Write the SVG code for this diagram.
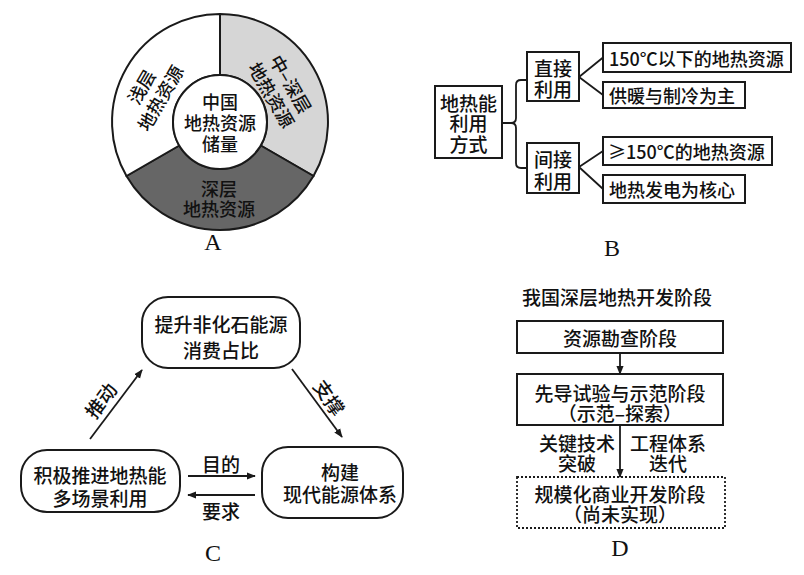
<svg xmlns="http://www.w3.org/2000/svg" width="804" height="575" viewBox="0 0 804 575">
<style>
text{font-family:"Noto Sans CJK SC","Noto Sans",sans-serif;fill:#111;font-weight:500;}
.t{font-size:18px;text-anchor:middle;dominant-baseline:central;}
.t19{font-size:19px;text-anchor:middle;dominant-baseline:central;}
.tl{font-size:18px;text-anchor:start;dominant-baseline:central;}
.lab{font-family:"Liberation Serif","Times New Roman",serif;font-size:24px;text-anchor:middle;font-weight:normal;}
.box{fill:#fff;stroke:#1a1a1a;stroke-width:2;}
.dbox{fill:#fff;stroke:#1a1a1a;stroke-width:1.8;stroke-dasharray:2 2;}
.ln{fill:none;stroke:#1a1a1a;stroke-width:1.8;}
.arr{fill:none;stroke:#1a1a1a;stroke-width:1.8;marker-end:url(#ah);}
</style>
<defs>
<marker id="ah" viewBox="0 0 10 10" refX="9" refY="5" markerWidth="5" markerHeight="5" orient="auto" markerUnits="strokeWidth">
<path d="M0,1 L10,5 L0,9 Z" fill="#1a1a1a"/>
</marker>
</defs>
<rect width="804" height="575" fill="#fff"/>

<!-- A: ring chart -->
<g id="chartA">
<path d="M220,14 A108,108 0 0 1 313.5,176 L260.7,145.5 A47,47 0 0 0 220,75 Z" fill="#d6d6d6" stroke="#1a1a1a" stroke-width="2"/>
<path d="M313.5,176 A108,108 0 0 1 126.5,176 L179.3,145.5 A47,47 0 0 0 260.7,145.5 Z" fill="#666" stroke="#1a1a1a" stroke-width="2"/>
<path d="M126.5,176 A108,108 0 0 1 220,14 L220,75 A47,47 0 0 0 179.3,145.5 Z" fill="#fff" stroke="#1a1a1a" stroke-width="2"/>
<circle cx="220" cy="122" r="47" fill="#fff" stroke="#1a1a1a" stroke-width="2"/>
<text class="t" x="220" y="101">中国</text>
<text class="t" x="220" y="122">地热资源</text>
<text class="t" x="220" y="143">储量</text>
<g transform="translate(150,92) rotate(-60)">
<text class="t" x="0" y="-11">浅层</text>
<text class="t" x="0" y="11">地热资源</text>
</g>
<g transform="translate(282,89) rotate(60)">
<text class="t" x="0" y="-11">中–深层</text>
<text class="t" x="0" y="11">地热资源</text>
</g>
<text class="t" x="219" y="188">深层</text>
<text class="t" x="219" y="208">地热资源</text>
<text class="lab" x="213" y="250">A</text>
</g>

<!-- B: tree -->
<g id="B-root"><rect class="box" x="435" y="86" width="67" height="72"/>
<text class="t19" x="468.5" y="102">地热能</text>
<text class="t19" x="468.5" y="122">利用</text>
<text class="t19" x="468.5" y="143">方式</text></g>
<g id="B-direct"><rect class="box" x="527" y="52" width="52" height="49"/>
<text class="t19" x="553" y="67">直接</text>
<text class="t19" x="553" y="88">利用</text></g>
<g id="B-indirect"><rect class="box" x="527" y="143" width="52" height="50"/>
<text class="t19" x="553" y="158">间接</text>
<text class="t19" x="553" y="180">利用</text></g>
<g id="B-l1"><rect class="box" x="603" y="43" width="188" height="29"/>
<text class="tl" x="609" y="57.5">150℃以下的地热资源</text></g>
<g id="B-l2"><rect class="box" x="603" y="82" width="142" height="26"/>
<text class="tl" x="609" y="95">供暖与制冷为主</text></g>
<g id="B-l3"><rect class="box" x="603" y="137" width="169" height="28"/>
<text class="tl" x="608" y="151">≥150℃的地热资源</text></g>
<g id="B-l4"><rect class="box" x="603" y="175" width="142" height="28"/>
<text class="tl" x="609" y="189">地热发电为核心</text></g>
<text class="lab" x="612" y="256">B</text>

<!-- C: cycle -->
<g id="C-top"><rect class="box" x="142" y="297" width="158" height="71" rx="26"/>
<text class="t19" x="221" y="323">提升非化石能源</text>
<text class="t19" x="221" y="349">消费占比</text></g>
<g id="C-left"><rect class="box" x="21" y="450" width="159" height="62" rx="26"/>
<text class="t19" x="100" y="474">积极推进地热能</text>
<text class="t19" x="100" y="497">多场景利用</text></g>
<g id="C-right"><rect class="box" x="262" y="447" width="141" height="71" rx="26"/>
<text class="t19" x="340" y="471">构建</text>
<text class="t19" x="340" y="493">现代能源体系</text></g>
<text class="lab" x="213" y="561">C</text>

<!-- D: stages -->
<text class="t19" x="617" y="296">我国深层地热开发阶段</text>
<g id="D-1"><rect class="box" x="517" y="321" width="206" height="32"/>
<text class="t19" x="620" y="337">资源勘查阶段</text></g>
<g id="D-2"><rect class="box" x="517" y="374" width="206" height="51"/>
<text class="t19" x="620" y="392">先导试验与示范阶段</text>
<text class="t19" x="620" y="412">（示范–探索）</text></g>
<g id="D-3"><rect class="dbox" x="517" y="477" width="208" height="51"/>
<text class="t19" x="620" y="493">规模化商业开发阶段</text>
<text class="t19" x="620" y="513">（尚未实现）</text></g>
<text class="lab" x="620" y="556">D</text>

<g id="connectors">
<path class="ln" d="M527,80 H521 Q516,80 516,85 V118 Q516,123 511,123 H502 M511,123 Q516,123 516,128 V163 Q516,168 521,168 H527"/>
<path class="ln" d="M579,77 L603,57.5 M579,77 L603,95"/>
<path class="ln" d="M579,167 L603,151 M579,167 L603,189"/>
<path class="arr" d="M90,439 L142,370"/>
<path class="arr" d="M292,369 L342,437"/>
<path class="arr" d="M188,476 L255,476"/>
<path class="arr" d="M255,495 L188,495"/>
<path class="arr" d="M620,353 L620,374"/>
<path class="arr" d="M620,425 L620,477"/>
<text class="t19" transform="translate(100,400) rotate(-53)">推动</text>
<text class="t19" transform="translate(330,397) rotate(55)">支撑</text>
<text class="t19" x="221" y="463">目的</text>
<text class="t19" x="221" y="510">要求</text>
<text class="t19" x="577" y="442">关键技术</text>
<text class="t19" x="577" y="462">突破</text>
<text class="t19" x="668" y="442">工程体系</text>
<text class="t19" x="668" y="462">迭代</text>
</g>
</svg>
